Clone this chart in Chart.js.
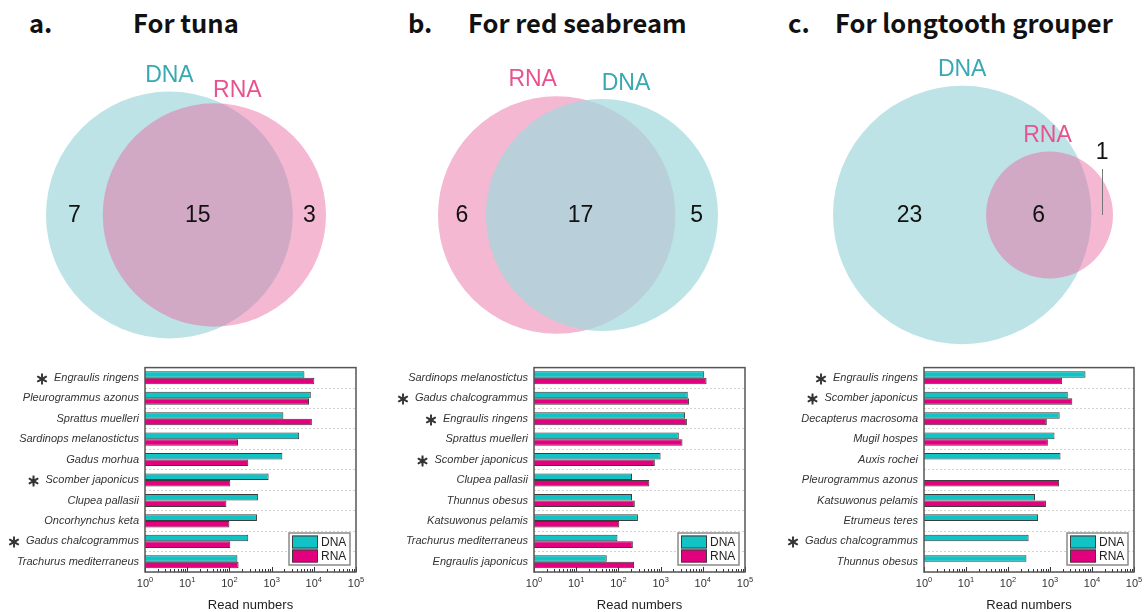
<!DOCTYPE html>
<html>
<head>
<meta charset="utf-8">
<script src="https://cdn.jsdelivr.net/npm/chart.js@4.4.1/dist/chart.umd.min.js"></script>
<style>
  html, body { margin: 0; padding: 0; background: #fff; }
  #page { position: relative; width: 1148px; height: 612px; overflow: hidden; background: #fff; }
  canvas { position: absolute; }
  .ttl { position: absolute; top: 9px; font-family: "Noto Sans CJK JP", "Noto Sans", sans-serif;
         font-weight: 700; font-size: 25.5px; line-height: 26px; color: #111; white-space: nowrap; }
</style>
</head>
<body>
<div id="page">
  <div class="ttl" style="left:29px">a.</div>
  <div class="ttl" style="left:133px">For tuna</div>
  <div class="ttl" style="left:408px">b.</div>
  <div class="ttl" style="left:468px">For red seabream</div>
  <div class="ttl" style="left:788px">c.</div>
  <div class="ttl" style="left:835px">For longtooth grouper</div>

  <canvas id="vennTuna" width="350" height="350" style="left:11px; top:40px"></canvas>
  <canvas id="vennSeabream" width="350" height="350" style="left:403px; top:40px"></canvas>
  <canvas id="vennGrouper" width="350" height="350" style="left:798px; top:40px"></canvas>

  <canvas id="barsTuna" width="365" height="257" style="left:0px; top:355px"></canvas>
  <canvas id="barsSeabream" width="365" height="257" style="left:390px; top:355px"></canvas>
  <canvas id="barsGrouper" width="365" height="257" style="left:780px; top:355px"></canvas>
</div>

<script>
// ---- data ----------------------------------------------------------------
const tickExponents = [0, 1, 2, 3, 4, 5];

// Venn counts: [left only, shared, right only]
const tunaVennSets = ['DNA', 'RNA'];
const tunaVennCounts = [7, 15, 3];
const seabreamVennSets = ['RNA', 'DNA'];
const seabreamVennCounts = [6, 17, 5];
const grouperVennSets = ['DNA', 'RNA'];
const grouperVennCounts = [23, 6, 1];

// read numbers per species
const tunaSpecies = ['Engraulis ringens', 'Pleurogrammus azonus', 'Sprattus muelleri',
  'Sardinops melanostictus', 'Gadus morhua', 'Scomber japonicus', 'Clupea pallasii',
  'Oncorhynchus keta', 'Gadus chalcogrammus', 'Trachurus mediterraneus'];
const tunaDNA = [6000, 8500, 1900, 4500, 1800, 850, 480, 450, 280, 155];
const tunaRNA = [10300, 7700, 9000, 160, 280, 105, 85, 100, 105, 165];
const tunaMarked = ['Engraulis ringens', 'Scomber japonicus', 'Gadus chalcogrammus'];

const seabreamSpecies = ['Sardinops melanostictus', 'Gadus chalcogrammus', 'Engraulis ringens',
  'Sprattus muelleri', 'Scomber japonicus', 'Clupea pallasii', 'Thunnus obesus',
  'Katsuwonus pelamis', 'Trachurus mediterraneus', 'Engraulis japonicus'];
const seabreamDNA = [10800, 4400, 3800, 2700, 1000, 210, 210, 290, 95, 53];
const seabreamRNA = [12300, 4700, 4200, 3300, 730, 540, 245, 105, 220, 235];
const seabreamMarked = ['Gadus chalcogrammus', 'Engraulis ringens', 'Scomber japonicus'];

const grouperSpecies = ['Engraulis ringens', 'Scomber japonicus', 'Decapterus macrosoma',
  'Mugil hospes', 'Auxis rochei', 'Pleurogrammus azonus', 'Katsuwonus pelamis',
  'Etrumeus teres', 'Gadus chalcogrammus', 'Thunnus obesus'];
const grouperDNA = [7000, 2650, 1700, 1280, 1780, null, 440, 520, 310, 275];
const grouperRNA = [1950, 3400, 840, 890, null, 1650, 800, null, null, null];
const grouperMarked = ['Engraulis ringens', 'Scomber japonicus', 'Gadus chalcogrammus'];

// ---- Venn diagrams (area-proportional circles drawn as scatter points) ---
const VENN_SPAN = 280;           // total horizontal extent of a diagram, px
const SANS = '"Liberation Sans", Arial, sans-serif';
const SET_STYLE = {
  DNA: { under: '#BDE3E6', over: 'rgba(162,216,220,0.72)', text: '#37A9B2' },
  RNA: { under: '#F4B8D2', over: 'rgba(232,107,161,0.48)', text: '#E8528E' }
};

function lensArea(r1, r2, d) {
  if (d >= r1 + r2) return 0;
  if (d <= Math.abs(r1 - r2)) return Math.PI * Math.min(r1, r2) ** 2;
  const a1 = Math.acos((d * d + r1 * r1 - r2 * r2) / (2 * d * r1));
  const a2 = Math.acos((d * d + r2 * r2 - r1 * r1) / (2 * d * r2));
  const k = Math.sqrt((-d + r1 + r2) * (d + r1 - r2) * (d - r1 + r2) * (d + r1 + r2));
  return r1 * r1 * a1 + r2 * r2 * a2 - 0.5 * k;
}

function vennLayout(counts) {
  const [onlyL, shared, onlyR] = counts;
  const rL = Math.sqrt((onlyL + shared) / Math.PI);
  const rR = Math.sqrt((onlyR + shared) / Math.PI);
  let lo = Math.abs(rL - rR), hi = rL + rR;
  for (let i = 0; i < 80; i++) {
    const mid = (lo + hi) / 2;
    if (lensArea(rL, rR, mid) > shared) lo = mid; else hi = mid;
  }
  return { rL, rR, d: (lo + hi) / 2 };
}

// circle radius in pixels, taken from the x scale so the circles follow the axis units
function circleRadius(ctx) {
  const xs = ctx.chart.scales.x;
  if (!ctx.raw || !xs) return 0;
  return Math.abs(xs.getPixelForValue(ctx.raw.size) - xs.getPixelForValue(0));
}

const vennText = {
  id: 'vennText',
  afterDatasetsDraw(chart, args, opts) {
    const ctx = chart.ctx;
    const right = chart.getDatasetMeta(0).data[0];
    const left = chart.getDatasetMeta(1).data[0];
    const rL = left.options.radius, rR = right.options.radius;
    const circles = [[left, rL], [right, rR]];
    ctx.save();
    // set names above each circle
    ctx.font = '23px ' + SANS;
    ctx.textAlign = 'center';
    ctx.textBaseline = 'alphabetic';
    circles.forEach(([el, r], i) => {
      const sh = opts.labelShift[i];
      ctx.fillStyle = SET_STYLE[opts.sets[i]].text;
      ctx.fillText(opts.sets[i], el.x + sh.dx, el.y - r - sh.gap);
    });
    // region counts along the centre line
    const lL = left.x - rL, lR = left.x + rL, rRl = right.x - rR, rRr = right.x + rR;
    const regions = [[lL, rRl], [rRl, lR], [lR, rRr]];
    ctx.fillStyle = '#111';
    ctx.textBaseline = 'middle';
    const cy = left.y;
    regions.forEach(([a, b], i) => {
      const x = (a + b) / 2;
      if (b - a < 30) {
        ctx.fillText(String(opts.counts[i]), x, cy - 62);
        ctx.strokeStyle = '#777';
        ctx.lineWidth = 1;
        ctx.beginPath();
        ctx.moveTo(Math.round(x) + 0.5, cy - 46);
        ctx.lineTo(Math.round(x) + 0.5, cy);
        ctx.stroke();
      } else {
        ctx.fillText(String(opts.counts[i]), x, cy + 1);
      }
    });
    ctx.restore();
  }
};

function makeVenn(id, sets, counts, labelShift) {
  const canvas = document.getElementById(id);
  const half = canvas.width / 2;
  const lay = vennLayout(counts);
  const s = VENN_SPAN / (lay.rL + lay.d + lay.rR);
  const xL = -VENN_SPAN / 2 + lay.rL * s;
  const xR = xL + lay.d * s;
  new Chart(canvas, {
    type: 'scatter',
    data: {
      datasets: [
        { label: sets[1], data: [{ x: xR, y: 0, size: lay.rR * s }],
          pointBackgroundColor: SET_STYLE[sets[1]].over, order: 0 },
        { label: sets[0], data: [{ x: xL, y: 0, size: lay.rL * s }],
          pointBackgroundColor: SET_STYLE[sets[0]].under, order: 1 }
      ]
    },
    options: {
      responsive: false, animation: false, events: [],
      layout: { padding: 0 },
      datasets: { scatter: { pointRadius: circleRadius, pointHoverRadius: circleRadius,
                             pointBorderWidth: 0, showLine: false, clip: false } },
      scales: {
        x: { type: 'linear', display: false, min: -half, max: half },
        y: { type: 'linear', display: false, min: -half, max: half }
      },
      plugins: {
        legend: { display: false }, tooltip: { enabled: false },
        vennText: { sets, counts, labelShift }
      }
    },
    plugins: [vennText]
  });
}

makeVenn('vennTuna', tunaVennSets, tunaVennCounts, [{ dx: 0, gap: 10 }, { dx: 23, gap: 6 }]);
makeVenn('vennSeabream', seabreamVennSets, seabreamVennCounts, [{ dx: -24, gap: 10 }, { dx: 24, gap: 9 }]);
makeVenn('vennGrouper', grouperVennSets, grouperVennCounts, [{ dx: 0, gap: 10 }, { dx: -2, gap: 10 }]);

// ---- horizontal log bar charts -------------------------------------------
const DNA_COLOR = '#12C3C5';
const RNA_COLOR = '#E3007F';
const EDGE = '#3c3c3c';
const LABEL_FONT = { family: SANS, size: 11, style: 'italic' };
const LABEL_PAD = 6;

const barDecor = {
  id: 'barDecor',
  afterDatasetsDraw(chart) {
    const { ctx, chartArea: ca } = chart;
    const xs = chart.scales.x;
    ctx.save();
    // minor / major ticks pointing inward from the bottom edge
    ctx.strokeStyle = '#333';
    ctx.lineWidth = 1;
    ctx.beginPath();
    for (let i = 0; i < tickExponents.length; i++) {
      const e = tickExponents[i];
      const x = Math.round(xs.getPixelForValue(10 ** e)) + 0.5;
      ctx.moveTo(x, ca.bottom); ctx.lineTo(x, ca.bottom - 5);
      if (i < tickExponents.length - 1) {
        for (let m = 2; m <= 9; m++) {
          const xm = Math.round(xs.getPixelForValue(m * 10 ** e)) + 0.5;
          ctx.moveTo(xm, ca.bottom); ctx.lineTo(xm, ca.bottom - 3);
        }
      }
    }
    ctx.stroke();
    // plot frame
    ctx.strokeStyle = '#555';
    ctx.lineWidth = 1.5;
    ctx.strokeRect(ca.left, ca.top, ca.right - ca.left, ca.bottom - ca.top);
    ctx.restore();
  },
  afterDraw(chart, args, opts) {
    const { ctx, chartArea: ca } = chart;
    const xs = chart.scales.x, ys = chart.scales.y;
    ctx.save();
    // x tick labels: 10 with superscript exponent
    ctx.fillStyle = '#333';
    ctx.textBaseline = 'alphabetic';
    ctx.textAlign = 'left';
    tickExponents.forEach(e => {
      const x = xs.getPixelForValue(10 ** e);
      ctx.font = '11px ' + SANS;
      const wb = ctx.measureText('10').width;
      ctx.font = '7.5px ' + SANS;
      const we = ctx.measureText(String(e)).width;
      const x0 = x - (wb + we) / 2;
      ctx.font = '11px ' + SANS;
      ctx.fillText('10', x0, ca.bottom + 15);
      ctx.font = '7.5px ' + SANS;
      ctx.fillText(String(e), x0 + wb, ca.bottom + 10);
    });
    // axis title
    ctx.font = '13px ' + SANS;
    ctx.textAlign = 'center';
    ctx.fillStyle = '#222';
    ctx.fillText('Read numbers', (ca.left + ca.right) / 2, ca.bottom + 37);

    // asterisks before marked species (slightly emboldened)
    const labels = chart.data.labels;
    labels.forEach((name, i) => {
      if (!opts.marked.includes(name)) return;
      ctx.font = 'italic 11px ' + SANS;
      const w = ctx.measureText(name).width;
      const y = ys.getPixelForValue(i);
      ctx.font = 'bold 13px "Noto Sans CJK JP", "DejaVu Sans", sans-serif';
      ctx.textAlign = 'center';
      ctx.textBaseline = 'middle';
      ctx.fillStyle = '#333';
      ctx.strokeStyle = '#333';
      ctx.lineWidth = 0.9;
      const ax = ca.left - LABEL_PAD - w - 12;
      ctx.fillText('＊', ax, y + 1);
      ctx.strokeText('＊', ax, y + 1);
    });

    // legend box in the lower-right corner
    const bw = 61, bh = 32;
    const bx = ca.right - 6 - bw, by = ca.bottom - 7 - bh;
    ctx.fillStyle = '#fff';
    ctx.fillRect(bx, by, bw, bh);
    ctx.strokeStyle = '#8a8a8a';
    ctx.lineWidth = 1.5;
    ctx.strokeRect(bx, by, bw, bh);
    ctx.textAlign = 'left';
    ctx.textBaseline = 'middle';
    ctx.font = '12px ' + SANS;
    chart.data.datasets.forEach((ds, i) => {
      const sy = by + 2.5 + i * 14;
      ctx.fillStyle = ds.backgroundColor;
      ctx.fillRect(bx + 3, sy, 26, 13);
      ctx.strokeStyle = EDGE;
      ctx.lineWidth = 1;
      ctx.strokeRect(bx + 3.5, sy + 0.5, 25, 12);
      ctx.fillStyle = '#222';
      ctx.fillText(ds.label, bx + 32, sy + 7);
    });
    ctx.restore();
  }
};

function makeBars(id, species, dna, rna, marked, yAxisWidth, rightPad) {
  new Chart(document.getElementById(id), {
    type: 'bar',
    data: {
      labels: species,
      datasets: [
        { label: 'DNA', data: dna, backgroundColor: DNA_COLOR },
        { label: 'RNA', data: rna, backgroundColor: RNA_COLOR }
      ]
    },
    options: {
      indexAxis: 'y',
      responsive: false, animation: false, events: [],
      layout: { padding: { top: 5, right: rightPad, bottom: 0, left: 0 } },
      datasets: { bar: { borderColor: EDGE, borderWidth: 1, categoryPercentage: 0.64, barPercentage: 1 } },
      scales: {
        x: {
          type: 'logarithmic', min: 1, max: 1e5,
          grid: { display: false }, border: { display: false },
          ticks: { display: false },
          afterFit: s => { s.height = 40; }
        },
        y: {
          grid: { color: '#d2d2d2', lineWidth: 1, drawTicks: false, offset: true },
          border: { display: false, dash: [2, 2] },
          ticks: { font: LABEL_FONT, color: '#333', padding: LABEL_PAD },
          afterFit: s => { s.width = yAxisWidth; }
        }
      },
      plugins: { legend: { display: false }, tooltip: { enabled: false }, barDecor: { marked } }
    },
    plugins: [barDecor]
  });
}

makeBars('barsTuna', tunaSpecies, tunaDNA, tunaRNA, tunaMarked, 145, 9);
makeBars('barsSeabream', seabreamSpecies, seabreamDNA, seabreamRNA, seabreamMarked, 144, 10);
makeBars('barsGrouper', grouperSpecies, grouperDNA, grouperRNA, grouperMarked, 144, 11);
</script>
</body>
</html>
